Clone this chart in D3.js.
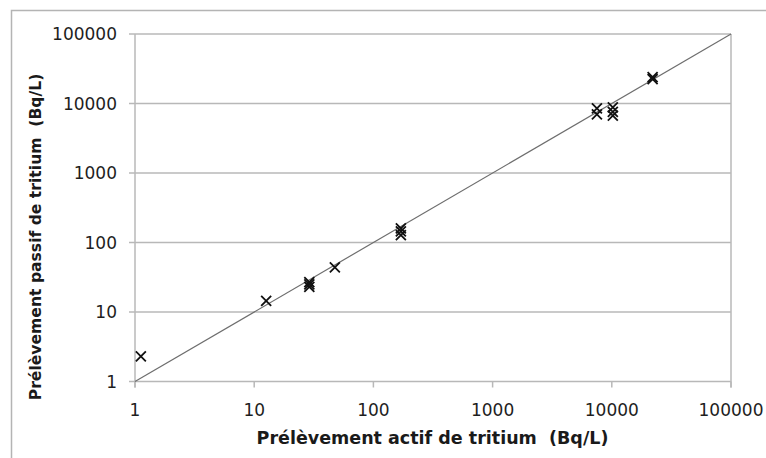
<!DOCTYPE html>
<html>
<head>
<meta charset="utf-8">
<script src="https://cdn.jsdelivr.net/npm/d3@7/dist/d3.min.js"></script>
<style>
  body { margin: 0; background: #fff; }
  text { font-family: "DejaVu Sans", sans-serif; }
</style>
</head>
<body>
<script>
// tritium: active sampling (x) vs passive sampling (y), Bq/L
var actif  = [1.12, 12.6, 29, 29, 29, 47.5, 170, 170, 170, 7500, 7500, 10200, 10200, 10200, 22000, 22000];
var passif = [2.3, 14.5, 27, 25, 23, 44, 160, 145, 128, 8500, 7000, 8800, 7600, 6700, 24000, 22500];
var ticks = [1, 10, 100, 1000, 10000, 100000];
var diag = [1, 100000];

var W = 766, H = 458;
var plotL = 135, plotR = 731, plotT = 34, plotB = 381.5;

var svg = d3.select('body').append('svg')
    .attr('width', W)
    .attr('height', H);

// outer frame
svg.append('rect')
    .attr('x', 11.5).attr('y', 10.5)
    .attr('width', 900).attr('height', 600)
    .attr('fill', 'none')
    .attr('stroke', '#b4b4b4')
    .attr('stroke-width', 1.5);

var x = d3.scaleLog().domain([1, 100000]).range([plotL, plotR]);
var y = d3.scaleLog().domain([1, 100000]).range([plotB, plotT]);

var grid = '#b8b8b8';

// horizontal gridlines
svg.selectAll('line.grid').data(ticks).enter().append('line')
    .attr('class', 'grid')
    .attr('x1', x(1) - 6).attr('x2', x(100000))
    .attr('y1', function(d){ return y(d); })
    .attr('y2', function(d){ return y(d); })
    .attr('stroke', grid).attr('stroke-width', 1.5);

// left axis and right border
svg.append('line')
    .attr('x1', x(1)).attr('x2', x(1))
    .attr('y1', y(100000)).attr('y2', y(1) + 6)
    .attr('stroke', grid).attr('stroke-width', 1.5);
svg.append('line')
    .attr('x1', x(100000)).attr('x2', x(100000))
    .attr('y1', y(100000)).attr('y2', y(1) + 6)
    .attr('stroke', grid).attr('stroke-width', 1.5);

// x ticks
svg.selectAll('line.xt').data(ticks).enter().append('line')
    .attr('class', 'xt')
    .attr('x1', function(d){ return x(d); })
    .attr('x2', function(d){ return x(d); })
    .attr('y1', y(1)).attr('y2', y(1) + 6)
    .attr('stroke', grid).attr('stroke-width', 1.5);

// tick labels
svg.selectAll('text.yl').data(ticks).enter().append('text')
    .attr('class', 'yl')
    .attr('x', x(1) - 18)
    .attr('y', function(d){ return y(d); })
    .attr('dy', '0.36em')
    .attr('text-anchor', 'end')
    .attr('font-size', 17)
    .attr('fill', '#1e1e1e')
    .text(function(d){ return d; });

svg.selectAll('text.xl').data(ticks).enter().append('text')
    .attr('class', 'xl')
    .attr('x', function(d){ return x(d); })
    .attr('y', y(1) + 28)
    .attr('dy', '0.36em')
    .attr('text-anchor', 'middle')
    .attr('font-size', 17)
    .attr('fill', '#1e1e1e')
    .text(function(d){ return d; });

// y = x line
svg.append('line')
    .attr('x1', x(diag[0])).attr('y1', y(diag[0]))
    .attr('x2', x(diag[1])).attr('y2', y(diag[1]))
    .attr('stroke', '#6e6e6e').attr('stroke-width', 1.2);

// points as crosses
svg.selectAll('path.pt').data(actif).enter().append('path')
    .attr('class', 'pt')
    .attr('transform', function(d, i){ return 'translate(' + x(d) + ',' + y(passif[i]) + ')'; })
    .attr('d', 'M-5,-5L5,5M-5,5L5,-5')
    .attr('stroke', '#111').attr('stroke-width', 1.8)
    .attr('fill', 'none');

// axis titles
svg.append('text')
    .attr('x', (256 + 609) / 2)
    .attr('y', 438)
    .attr('dy', '0.36em')
    .attr('text-anchor', 'middle')
    .attr('font-size', 17.5)
    .attr('font-weight', 'bold')
    .attr('fill', '#1a1a1a')
    .attr('xml:space', 'preserve')
    .text('Prélèvement actif de tritium  (Bq/L)');

svg.append('text')
    .attr('transform', 'translate(35,' + (72 + 402) / 2 + ') rotate(-90)')
    .attr('dy', '0.36em')
    .attr('text-anchor', 'middle')
    .attr('font-size', 15.6)
    .attr('font-weight', 'bold')
    .attr('fill', '#1a1a1a')
    .attr('xml:space', 'preserve')
    .text('Prélèvement passif de tritium  (Bq/L)');
</script>
</body>
</html>
